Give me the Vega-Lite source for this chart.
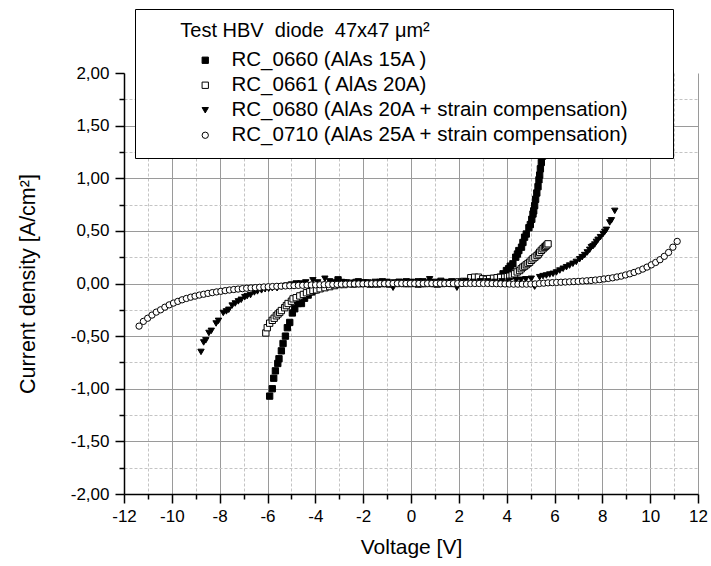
{
"$schema": "https://vega.github.io/schema/vega-lite/v6.json",
"width": 574, "height": 421,
"autosize": "none",
"padding": {"left": 124, "top": 73, "right": 13, "bottom": 72},
"background": "white",
"config": {"view": {"stroke": null}, "font": "Liberation Sans",
 "legend": {"orient": "none", "legendX": 11, "legendY": -64, "zindex": 1,
  "titleFontSize": 20, "titleFont": "Liberation Sans", "titleFontWeight": "normal", "titleColor": "black", "titleLimit": 700, "titlePadding": 9,
  "labelFontSize": 20.5, "labelFont": "Liberation Sans", "labelColor": "black", "labelLimit": 700,
  "strokeColor": "black", "fillColor": "white", "padding": 12,
  "symbolStrokeColor": "black", "symbolStrokeWidth": 1, "symbolOffset": 48, "labelOffset": 16, "rowPadding": 4}},
"datasets": {
"names": [
{"s":"a","name":"RC_0660 (AlAs 15A )"},
{"s":"b","name":"RC_0661 ( AlAs 20A)"},
{"s":"c","name":"RC_0680 (AlAs 20A + strain compensation)"},
{"s":"d","name":"RC_0710 (AlAs 25A + strain compensation)"}
],
"pts": [
{"s":"a","v":-5.91,"j":-1.07},{"s":"a","v":-5.80,"j":-1.00},{"s":"a","v":-5.74,"j":-0.90},{"s":"a","v":-5.67,"j":-0.83},{"s":"a","v":-5.57,"j":-0.76},{"s":"a","v":-5.52,"j":-0.715},{"s":"a","v":-5.42,"j":-0.64},{"s":"a","v":-5.35,"j":-0.57},{"s":"a","v":-5.25,"j":-0.50},{"s":"a","v":-5.17,"j":-0.42},{"s":"a","v":-5.07,"j":-0.37},{"s":"a","v":-4.96,"j":-0.28},{"s":"a","v":-4.86,"j":-0.24},{"s":"a","v":-4.72,"j":-0.19},{"s":"a","v":-4.58,"j":-0.19},{"s":"a","v":-4.45,"j":-0.14},{"s":"a","v":-4.3,"j":-0.11},{"s":"a","v":-4.15,"j":-0.08},{"s":"a","v":-4.0,"j":-0.06},{"s":"a","v":-3.85,"j":-0.045},{"s":"a","v":-3.7,"j":-0.035},{"s":"a","v":-3.5,"j":-0.02},{"s":"a","v":-3.3,"j":-0.01},{"s":"a","v":-3.05,"j":0.035},{"s":"a","v":-2.9,"j":0.01},{"s":"a","v":-2.7,"j":0.005},{"s":"a","v":-2.5,"j":0.0},{"s":"a","v":-2.3,"j":0.01},{"s":"a","v":-2.1,"j":0.0},{"s":"a","v":-1.9,"j":0.005},{"s":"a","v":-1.7,"j":-0.005},{"s":"a","v":-1.5,"j":0.0},{"s":"a","v":-1.3,"j":0.01},{"s":"a","v":-1.1,"j":0.0},{"s":"a","v":-0.9,"j":-0.005},{"s":"a","v":-0.7,"j":0.005},{"s":"a","v":-0.5,"j":0.01},{"s":"a","v":-0.3,"j":0.0},{"s":"a","v":-0.1,"j":0.0},{"s":"a","v":0.1,"j":0.005},{"s":"a","v":0.3,"j":-0.005},{"s":"a","v":0.5,"j":0.0},{"s":"a","v":0.7,"j":0.005},{"s":"a","v":0.9,"j":0.0},{"s":"a","v":1.1,"j":-0.005},{"s":"a","v":1.3,"j":0.0},{"s":"a","v":1.5,"j":0.005},{"s":"a","v":1.7,"j":0.0},{"s":"a","v":1.9,"j":0.01},{"s":"a","v":2.1,"j":0.005},{"s":"a","v":2.3,"j":0.01},{"s":"a","v":2.5,"j":0.015},{"s":"a","v":2.7,"j":0.01},{"s":"a","v":2.9,"j":0.015},{"s":"a","v":3.1,"j":0.02},{"s":"a","v":3.3,"j":0.025},{"s":"a","v":3.45,"j":0.03},{"s":"a","v":3.6,"j":0.04},{"s":"a","v":3.72,"j":0.06},{"s":"a","v":3.85,"j":0.092},{"s":"a","v":3.99,"j":0.123},{"s":"a","v":4.08,"j":0.14},{"s":"a","v":4.15,"j":0.165},{"s":"a","v":4.26,"j":0.187},{"s":"a","v":4.38,"j":0.25},{"s":"a","v":4.45,"j":0.28},{"s":"a","v":4.51,"j":0.313},{"s":"a","v":4.62,"j":0.345},{"s":"a","v":4.68,"j":0.39},{"s":"a","v":4.75,"j":0.44},{"s":"a","v":4.82,"j":0.47},{"s":"a","v":4.93,"j":0.53},{"s":"a","v":4.99,"j":0.56},{"s":"a","v":5.05,"j":0.61},{"s":"a","v":5.10,"j":0.66},{"s":"a","v":5.13,"j":0.69},{"s":"a","v":5.17,"j":0.74},{"s":"a","v":5.21,"j":0.80},{"s":"a","v":5.26,"j":0.86},{"s":"a","v":5.31,"j":0.92},{"s":"a","v":5.35,"j":0.985},{"s":"a","v":5.38,"j":1.03},{"s":"a","v":5.41,"j":1.09},{"s":"a","v":5.45,"j":1.15},{"s":"a","v":5.50,"j":1.21},{"s":"a","v":5.55,"j":1.28},{"s":"a","v":5.6,"j":1.36},
{"s":"b","v":-6.07,"j":-0.47},{"s":"b","v":-6.01,"j":-0.42},{"s":"b","v":-5.91,"j":-0.377},{"s":"b","v":-5.80,"j":-0.35},{"s":"b","v":-5.72,"j":-0.33},{"s":"b","v":-5.63,"j":-0.307},{"s":"b","v":-5.56,"j":-0.29},{"s":"b","v":-5.49,"j":-0.275},{"s":"b","v":-5.42,"j":-0.257},{"s":"b","v":-5.28,"j":-0.23},{"s":"b","v":-5.21,"j":-0.21},{"s":"b","v":-5.14,"j":-0.19},{"s":"b","v":-5.0,"j":-0.168},{"s":"b","v":-4.93,"j":-0.146},{"s":"b","v":-4.80,"j":-0.135},{"s":"b","v":-4.65,"j":-0.118},{"s":"b","v":-4.5,"j":-0.104},{"s":"b","v":-4.37,"j":-0.088},{"s":"b","v":-4.23,"j":-0.078},{"s":"b","v":-4.1,"j":-0.066},{"s":"b","v":-3.95,"j":-0.06},{"s":"b","v":-3.8,"j":-0.05},{"s":"b","v":-3.6,"j":-0.04},{"s":"b","v":-3.4,"j":-0.03},{"s":"b","v":-3.2,"j":-0.02},{"s":"b","v":-3.0,"j":-0.01},{"s":"b","v":-2.8,"j":-0.01},{"s":"b","v":-2.6,"j":0.0},{"s":"b","v":-2.4,"j":-0.005},{"s":"b","v":-2.2,"j":0.0},{"s":"b","v":-2.0,"j":0.0},{"s":"b","v":-1.8,"j":0.005},{"s":"b","v":-1.6,"j":0.0},{"s":"b","v":-1.4,"j":-0.005},{"s":"b","v":-1.2,"j":0.0},{"s":"b","v":-1.0,"j":0.005},{"s":"b","v":-0.8,"j":0.0},{"s":"b","v":-0.6,"j":0.0},{"s":"b","v":-0.4,"j":0.005},{"s":"b","v":-0.2,"j":0.0},{"s":"b","v":0.0,"j":0.0},{"s":"b","v":0.2,"j":0.005},{"s":"b","v":0.4,"j":0.0},{"s":"b","v":0.6,"j":0.0},{"s":"b","v":0.8,"j":0.005},{"s":"b","v":1.0,"j":0.0},{"s":"b","v":1.2,"j":0.005},{"s":"b","v":1.4,"j":0.01},{"s":"b","v":1.6,"j":0.005},{"s":"b","v":1.8,"j":0.01},{"s":"b","v":2.0,"j":0.015},{"s":"b","v":2.2,"j":0.02},{"s":"b","v":2.5,"j":0.055},{"s":"b","v":2.66,"j":0.06},{"s":"b","v":2.82,"j":0.06},{"s":"b","v":3.0,"j":0.045},{"s":"b","v":3.15,"j":0.04},{"s":"b","v":3.29,"j":0.047},{"s":"b","v":3.45,"j":0.05},{"s":"b","v":3.6,"j":0.055},{"s":"b","v":3.75,"j":0.058},{"s":"b","v":3.92,"j":0.06},{"s":"b","v":4.03,"j":0.065},{"s":"b","v":4.13,"j":0.07},{"s":"b","v":4.23,"j":0.08},{"s":"b","v":4.33,"j":0.092},{"s":"b","v":4.44,"j":0.11},{"s":"b","v":4.54,"j":0.123},{"s":"b","v":4.61,"j":0.14},{"s":"b","v":4.68,"j":0.155},{"s":"b","v":4.75,"j":0.165},{"s":"b","v":4.82,"j":0.178},{"s":"b","v":4.89,"j":0.19},{"s":"b","v":4.96,"j":0.202},{"s":"b","v":5.03,"j":0.22},{"s":"b","v":5.10,"j":0.235},{"s":"b","v":5.18,"j":0.25},{"s":"b","v":5.27,"j":0.266},{"s":"b","v":5.33,"j":0.28},{"s":"b","v":5.38,"j":0.297},{"s":"b","v":5.45,"j":0.315},{"s":"b","v":5.52,"j":0.33},{"s":"b","v":5.58,"j":0.345},{"s":"b","v":5.63,"j":0.354},{"s":"b","v":5.68,"j":0.365},{"s":"b","v":5.73,"j":0.377},
{"s":"c","v":-8.78,"j":-0.65},{"s":"c","v":-8.67,"j":-0.56},{"s":"c","v":-8.58,"j":-0.54},{"s":"c","v":-8.45,"j":-0.47},{"s":"c","v":-8.35,"j":-0.45},{"s":"c","v":-8.15,"j":-0.38},{"s":"c","v":-8.05,"j":-0.355},{"s":"c","v":-7.85,"j":-0.28},{"s":"c","v":-7.72,"j":-0.265},{"s":"c","v":-7.62,"j":-0.25},{"s":"c","v":-7.48,"j":-0.21},{"s":"c","v":-7.35,"j":-0.19},{"s":"c","v":-7.22,"j":-0.17},{"s":"c","v":-7.1,"j":-0.155},{"s":"c","v":-6.95,"j":-0.13},{"s":"c","v":-6.85,"j":-0.12},{"s":"c","v":-6.71,"j":-0.11},{"s":"c","v":-6.55,"j":-0.085},{"s":"c","v":-6.42,"j":-0.075},{"s":"c","v":-6.25,"j":-0.065},{"s":"c","v":-6.1,"j":-0.055},{"s":"c","v":-5.95,"j":-0.05},{"s":"c","v":-5.8,"j":-0.045},{"s":"c","v":-5.6,"j":-0.045},{"s":"c","v":-5.4,"j":-0.03},{"s":"c","v":-5.2,"j":-0.02},{"s":"c","v":-5.0,"j":-0.01},{"s":"c","v":-4.8,"j":0.0},{"s":"c","v":-4.6,"j":0.0},{"s":"c","v":-4.4,"j":0.01},{"s":"c","v":-4.1,"j":0.03},{"s":"c","v":-3.9,"j":0.01},{"s":"c","v":-3.6,"j":0.045},{"s":"c","v":-3.4,"j":0.02},{"s":"c","v":-3.2,"j":0.01},{"s":"c","v":-3.0,"j":0.005},{"s":"c","v":-2.8,"j":0.01},{"s":"c","v":-2.5,"j":0.005},{"s":"c","v":-2.2,"j":0.02},{"s":"c","v":-2.0,"j":0.01},{"s":"c","v":-1.8,"j":0.005},{"s":"c","v":-1.5,"j":0.015},{"s":"c","v":-1.2,"j":0.02},{"s":"c","v":-1.0,"j":0.015},{"s":"c","v":-0.75,"j":-0.04},{"s":"c","v":-0.5,"j":0.015},{"s":"c","v":-0.2,"j":0.02},{"s":"c","v":0.0,"j":0.015},{"s":"c","v":0.3,"j":0.02},{"s":"c","v":0.5,"j":0.02},{"s":"c","v":0.78,"j":0.04},{"s":"c","v":1.0,"j":0.015},{"s":"c","v":1.25,"j":0.025},{"s":"c","v":1.5,"j":0.01},{"s":"c","v":1.7,"j":0.02},{"s":"c","v":1.92,"j":-0.04},{"s":"c","v":2.1,"j":0.015},{"s":"c","v":2.3,"j":0.02},{"s":"c","v":2.6,"j":0.015},{"s":"c","v":2.9,"j":0.02},{"s":"c","v":3.2,"j":0.02},{"s":"c","v":3.5,"j":0.015},{"s":"c","v":3.8,"j":0.02},{"s":"c","v":4.1,"j":0.025},{"s":"c","v":4.4,"j":0.03},{"s":"c","v":4.6,"j":0.035},{"s":"c","v":4.8,"j":0.04},{"s":"c","v":5.03,"j":0.045},{"s":"c","v":5.17,"j":-0.03},{"s":"c","v":5.38,"j":0.06},{"s":"c","v":5.52,"j":0.07},{"s":"c","v":5.66,"j":0.076},{"s":"c","v":5.80,"j":0.085},{"s":"c","v":5.94,"j":0.092},{"s":"c","v":6.08,"j":0.105},{"s":"c","v":6.22,"j":0.123},{"s":"c","v":6.36,"j":0.14},{"s":"c","v":6.5,"j":0.155},{"s":"c","v":6.63,"j":0.17},{"s":"c","v":6.77,"j":0.187},{"s":"c","v":6.91,"j":0.205},{"s":"c","v":7.05,"j":0.23},{"s":"c","v":7.16,"j":0.25},{"s":"c","v":7.26,"j":0.27},{"s":"c","v":7.37,"j":0.295},{"s":"c","v":7.47,"j":0.32},{"s":"c","v":7.54,"j":0.345},{"s":"c","v":7.61,"j":0.355},{"s":"c","v":7.68,"j":0.37},{"s":"c","v":7.75,"j":0.395},{"s":"c","v":7.82,"j":0.415},{"s":"c","v":7.92,"j":0.44},{"s":"c","v":8.03,"j":0.47},{"s":"c","v":8.1,"j":0.49},{"s":"c","v":8.17,"j":0.51},{"s":"c","v":8.31,"j":0.58},{"s":"c","v":8.38,"j":0.60},{"s":"c","v":8.52,"j":0.69},
{"s":"d","v":-11.37,"j":-0.405},{"s":"d","v":-11.19,"j":-0.36},{"s":"d","v":-11.01,"j":-0.33},{"s":"d","v":-10.83,"j":-0.30},{"s":"d","v":-10.65,"j":-0.272},{"s":"d","v":-10.47,"j":-0.25},{"s":"d","v":-10.29,"j":-0.225},{"s":"d","v":-10.11,"j":-0.203},{"s":"d","v":-9.93,"j":-0.186},{"s":"d","v":-9.75,"j":-0.17},{"s":"d","v":-9.57,"j":-0.155},{"s":"d","v":-9.39,"j":-0.142},{"s":"d","v":-9.21,"j":-0.13},{"s":"d","v":-9.03,"j":-0.12},{"s":"d","v":-8.85,"j":-0.11},{"s":"d","v":-8.67,"j":-0.102},{"s":"d","v":-8.49,"j":-0.094},{"s":"d","v":-8.31,"j":-0.087},{"s":"d","v":-8.13,"j":-0.08},{"s":"d","v":-7.95,"j":-0.074},{"s":"d","v":-7.77,"j":-0.068},{"s":"d","v":-7.59,"j":-0.062},{"s":"d","v":-7.41,"j":-0.057},{"s":"d","v":-7.23,"j":-0.053},{"s":"d","v":-7.05,"j":-0.049},{"s":"d","v":-6.87,"j":-0.045},{"s":"d","v":-6.69,"j":-0.042},{"s":"d","v":-6.51,"j":-0.039},{"s":"d","v":-6.33,"j":-0.036},{"s":"d","v":-6.15,"j":-0.033},{"s":"d","v":-5.97,"j":-0.031},{"s":"d","v":-5.79,"j":-0.029},{"s":"d","v":-5.61,"j":-0.027},{"s":"d","v":-5.43,"j":-0.025},{"s":"d","v":-5.25,"j":-0.023},{"s":"d","v":-5.07,"j":-0.021},{"s":"d","v":-4.89,"j":-0.02},{"s":"d","v":-4.71,"j":-0.018},{"s":"d","v":-4.53,"j":-0.017},{"s":"d","v":-4.35,"j":-0.015},{"s":"d","v":-4.17,"j":-0.014},{"s":"d","v":-3.99,"j":-0.013},{"s":"d","v":-3.81,"j":-0.012},{"s":"d","v":-3.63,"j":-0.011},{"s":"d","v":-3.45,"j":-0.01},{"s":"d","v":-3.27,"j":-0.009},{"s":"d","v":-3.09,"j":-0.008},{"s":"d","v":-2.91,"j":-0.007},{"s":"d","v":-2.73,"j":-0.006},{"s":"d","v":-2.55,"j":-0.005},{"s":"d","v":-2.37,"j":-0.004},{"s":"d","v":-2.19,"j":-0.004},{"s":"d","v":-2.01,"j":-0.003},{"s":"d","v":-1.83,"j":-0.003},{"s":"d","v":-1.65,"j":-0.002},{"s":"d","v":-1.47,"j":-0.002},{"s":"d","v":-1.29,"j":-0.001},{"s":"d","v":-1.11,"j":-0.001},{"s":"d","v":-0.93,"j":0.0},{"s":"d","v":-0.75,"j":0.0},{"s":"d","v":-0.57,"j":0.0},{"s":"d","v":-0.39,"j":0.0},{"s":"d","v":-0.21,"j":0.0},{"s":"d","v":-0.03,"j":0.0},{"s":"d","v":0.15,"j":0.0},{"s":"d","v":0.33,"j":0.0},{"s":"d","v":0.51,"j":0.0},{"s":"d","v":0.69,"j":0.0},{"s":"d","v":0.87,"j":0.0},{"s":"d","v":1.05,"j":0.0},{"s":"d","v":1.23,"j":0.0},{"s":"d","v":1.41,"j":0.0},{"s":"d","v":1.59,"j":0.0},{"s":"d","v":1.77,"j":0.0},{"s":"d","v":1.95,"j":0.0},{"s":"d","v":2.13,"j":0.0},{"s":"d","v":2.31,"j":0.0},{"s":"d","v":2.49,"j":0.0},{"s":"d","v":2.67,"j":0.0},{"s":"d","v":2.85,"j":0.0},{"s":"d","v":3.03,"j":0.0},{"s":"d","v":3.21,"j":0.0},{"s":"d","v":3.39,"j":-0.001},{"s":"d","v":3.57,"j":-0.002},{"s":"d","v":3.75,"j":-0.003},{"s":"d","v":3.93,"j":-0.004},{"s":"d","v":4.11,"j":-0.005},{"s":"d","v":4.29,"j":-0.006},{"s":"d","v":4.47,"j":-0.006},{"s":"d","v":4.65,"j":-0.006},{"s":"d","v":4.83,"j":-0.006},{"s":"d","v":5.01,"j":-0.005},{"s":"d","v":5.19,"j":-0.004},{"s":"d","v":5.37,"j":0.0},{"s":"d","v":5.55,"j":0.003},{"s":"d","v":5.73,"j":0.006},{"s":"d","v":5.91,"j":0.008},{"s":"d","v":6.09,"j":0.010},{"s":"d","v":6.27,"j":0.012},{"s":"d","v":6.45,"j":0.014},{"s":"d","v":6.63,"j":0.016},{"s":"d","v":6.81,"j":0.018},{"s":"d","v":6.99,"j":0.02},{"s":"d","v":7.17,"j":0.023},{"s":"d","v":7.35,"j":0.026},{"s":"d","v":7.53,"j":0.029},{"s":"d","v":7.71,"j":0.033},{"s":"d","v":7.89,"j":0.037},{"s":"d","v":8.07,"j":0.043},{"s":"d","v":8.25,"j":0.048},{"s":"d","v":8.43,"j":0.054},{"s":"d","v":8.61,"j":0.062},{"s":"d","v":8.79,"j":0.07},{"s":"d","v":8.97,"j":0.081},{"s":"d","v":9.15,"j":0.092},{"s":"d","v":9.33,"j":0.105},{"s":"d","v":9.51,"j":0.12},{"s":"d","v":9.69,"j":0.137},{"s":"d","v":9.87,"j":0.156},{"s":"d","v":10.05,"j":0.177},{"s":"d","v":10.23,"j":0.2},{"s":"d","v":10.41,"j":0.226},{"s":"d","v":10.59,"j":0.258},{"s":"d","v":10.77,"j":0.295},{"s":"d","v":10.95,"j":0.345},{"s":"d","v":11.13,"j":0.40}
]
},
"data": {"name": "pts"},
"transform": [{"lookup": "s", "from": {"data": {"name": "names"}, "key": "s", "fields": ["name"]}}],
"mark": {"type": "point", "filled": true, "stroke": "black", "strokeWidth": 1, "opacity": 1},
"encoding": {
"x": {"field": "v", "type": "quantitative",
 "scale": {"domain": [-12, 12], "nice": false, "zero": false},
 "axis": {"title": "Voltage [V]",
  "values": [-12,-11,-10,-9,-8,-7,-6,-5,-4,-3,-2,-1,0,1,2,3,4,5,6,7,8,9,10,11,12],
  "labelExpr": "datum.value % 2 === 0 ? (datum.value < 0 ? '-' + abs(datum.value) : '' + datum.value) : ''",
  "labelFontSize": 17, "labelColor": "black", "labelFont": "Liberation Sans", "labelPadding": 5,
  "labelOverlap": false, "labelFlush": false,
  "tickSize": {"condition": {"test": "datum.value % 2 === 0", "value": 9}, "value": 5},
  "tickColor": "black", "tickWidth": 1.5, "domainColor": "black", "domainWidth": 1.5,
  "grid": true,
  "gridColor": {"condition": {"test": "datum.value % 2 === 0", "value": "#9a9a9a"}, "value": "#c4c4c4"},
  "gridDash": {"condition": {"test": "datum.value % 2 === 0", "value": []}, "value": [3, 2]},
  "gridWidth": 1,
  "titleFontSize": 21, "titleFontWeight": "normal", "titleColor": "black", "titleFont": "Liberation Sans", "titlePadding": 12}},
"y": {"field": "j", "type": "quantitative",
 "scale": {"domain": [-2, 2], "nice": false, "zero": false},
 "axis": {"title": "Current density [A/cm²]",
  "values": [-2,-1.75,-1.5,-1.25,-1,-0.75,-0.5,-0.25,0,0.25,0.5,0.75,1,1.25,1.5,1.75,2],
  "labelExpr": "datum.value % 0.5 === 0 ? (datum.value < 0 ? '-' : '') + replace(format(abs(datum.value), '.2f'), '.', ',') : ''",
  "labelFontSize": 17, "labelColor": "black", "labelFont": "Liberation Sans", "labelPadding": 6,
  "labelOverlap": false, "labelFlush": false,
  "tickSize": {"condition": {"test": "datum.value % 0.5 === 0", "value": 9}, "value": 5},
  "tickColor": "black", "tickWidth": 1.5, "domainColor": "black", "domainWidth": 1.5,
  "grid": true,
  "gridColor": {"condition": {"test": "datum.value % 0.5 === 0", "value": "#9a9a9a"}, "value": "#c4c4c4"},
  "gridDash": {"condition": {"test": "datum.value % 0.5 === 0", "value": []}, "value": [3, 2]},
  "gridOpacity": {"condition": {"test": "datum.value === 2", "value": 0}, "value": 1},
  "gridWidth": 1,
  "titleFontSize": 21.5, "titleFontWeight": "normal", "titleColor": "black", "titleFont": "Liberation Sans", "titlePadding": 31}},
"shape": {"field": "name", "type": "nominal",
 "scale": {"domain": ["RC_0660 (AlAs 15A )", "RC_0661 ( AlAs 20A)", "RC_0680 (AlAs 20A + strain compensation)", "RC_0710 (AlAs 25A + strain compensation)"], "range": ["square", "square", "triangle-down", "circle"]},
 "legend": {"title": "\u200b\u00a0\u00a0\u00a0\u00a0\u00a0\u00a0Test HBV\u00a0 diode\u00a0 47x47 μm²\u00a0\u2800\u2800\u2800\u2800\u2800\u2800\u2800\u2800\u2800\u2800\u2800\u2800\u2800\u2800\u2800", "symbolStrokeColor": "black", "symbolStrokeWidth": 1}},
"color": {"field": "name", "type": "nominal",
 "scale": {"domain": ["RC_0660 (AlAs 15A )", "RC_0661 ( AlAs 20A)", "RC_0680 (AlAs 20A + strain compensation)", "RC_0710 (AlAs 25A + strain compensation)"], "range": ["black", "white", "black", "white"]},
 "legend": {"title": "\u200b\u00a0\u00a0\u00a0\u00a0\u00a0\u00a0Test HBV\u00a0 diode\u00a0 47x47 μm²\u00a0\u2800\u2800\u2800\u2800\u2800\u2800\u2800\u2800\u2800\u2800\u2800\u2800\u2800\u2800\u2800", "symbolStrokeColor": "black", "symbolStrokeWidth": 1}},
"size": {"field": "name", "type": "nominal",
 "scale": {"domain": ["RC_0660 (AlAs 15A )", "RC_0661 ( AlAs 20A)", "RC_0680 (AlAs 20A + strain compensation)", "RC_0710 (AlAs 25A + strain compensation)"], "range": [40, 40, 105, 42]},
 "legend": {"title": "\u200b\u00a0\u00a0\u00a0\u00a0\u00a0\u00a0Test HBV\u00a0 diode\u00a0 47x47 μm²\u00a0\u2800\u2800\u2800\u2800\u2800\u2800\u2800\u2800\u2800\u2800\u2800\u2800\u2800\u2800\u2800", "symbolStrokeColor": "black", "symbolStrokeWidth": 1}}
}
}
